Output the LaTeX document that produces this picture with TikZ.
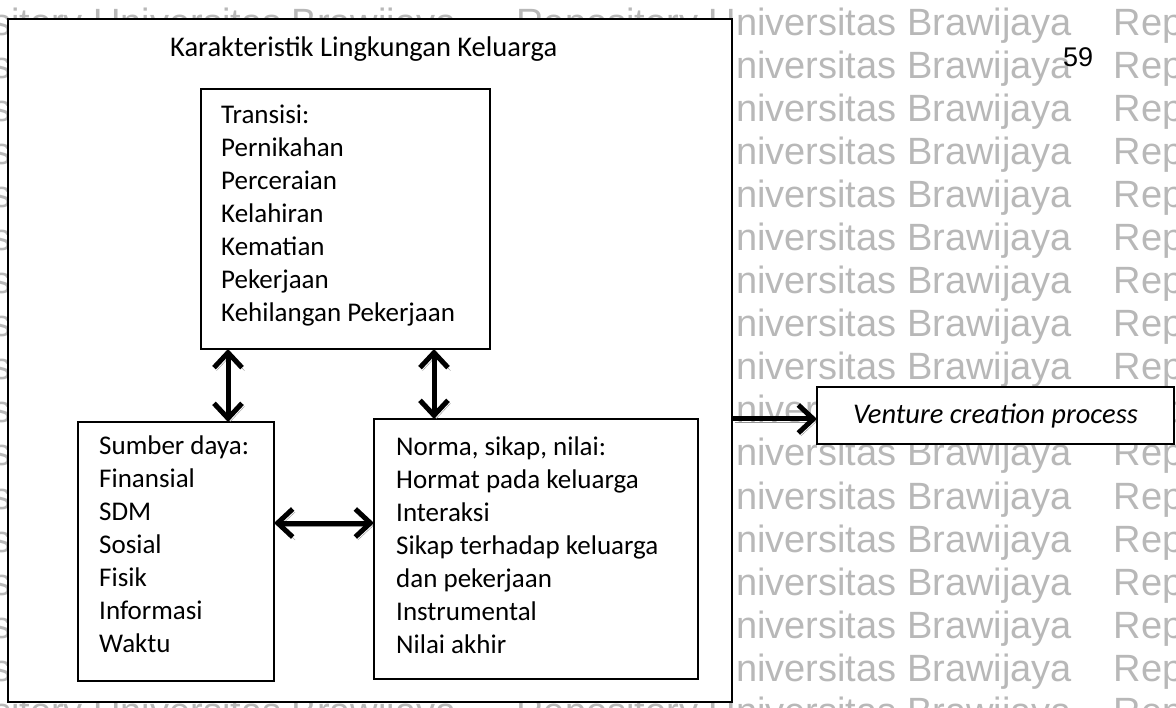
\documentclass[tikz,border=0pt]{standalone}
\usepackage{fontspec}
\setmainfont{Carlito}
\newfontfamily\wmfont{Liberation Sans}
\newfontfamily\pagenumfont{Liberation Sans}
\usetikzlibrary{arrows.meta,calc}
\newcommand{\bodyfont}{\fontsize{27}{33}\selectfont}
\newcommand{\headfont}{\fontsize{28.5}{35}\selectfont}
\begin{document}
\begin{tikzpicture}[x=1pt,y=-1pt,
  frame/.style={draw=black, line width=1.4pt, fill=white, rectangle,
    inner sep=0pt, outer sep=0pt, anchor=north west},
  body/.style={anchor=north west, inner sep=0pt, align=left, font=\bodyfont},
  watermark/.style={anchor=base west, inner sep=0pt, text=black!28,
    font=\wmfont\fontsize{38}{40}\selectfont},
  link/.style={line width=5pt, black,
    preaction={draw=black!42, transform canvas={shift={(2.5pt,-3pt)}}}},
  tip/.tip={Straight Barb[length=15pt,width=28pt,line width=5pt]}
]
\useasboundingbox (0,0) rectangle (1176,708);

% repository watermark lines in the background
\foreach \k in {0,...,16}{
  \node[watermark] (wm\k) at (-99,{36+43*\k})
    {Repository Universitas Brawijaya\hspace{60pt}Repository Universitas Brawijaya\hspace{42pt}Repository};
}

% outer frame and its title
\node[frame, minimum width=724pt, minimum height=683pt] (outer) at (8,19) {};
\node[anchor=base west, inner sep=0pt, font=\headfont] (title) at (170,57)
  {Karakteristik Lingkungan Keluarga};

% the three inner boxes
\node[frame, minimum width=289pt, minimum height=260pt] (trans) at (201,89) {};
\node[body] (transtext) at (221,{123-23.1})
  {\strut Transisi:\\Pernikahan\\Perceraian\\Kelahiran\\Kematian\\Pekerjaan\\Kehilangan Pekerjaan};

\node[frame, minimum width=196pt, minimum height=259pt] (sumber) at (78,422) {};
\node[body] (sumbertext) at (99,{454-23.1})
  {\strut Sumber daya:\\Finansial\\SDM\\Sosial\\Fisik\\Informasi\\Waktu};

\node[frame, minimum width=324pt, minimum height=260pt] (norma) at (374,419) {};
\node[body] (normatext) at (396,{455-23.1})
  {\strut Norma, sikap, nilai:\\Hormat pada keluarga\\Interaksi\\Sikap terhadap keluarga\\dan pekerjaan\\Instrumental\\Nilai akhir};

% outcome box
\node[frame, minimum width=357pt, minimum height=57pt] (venture) at (817,387) {};
\node[inner sep=0pt, font=\headfont\itshape] (venturetext) at (venture.center)
  {Venture creation process};

% page number
\node[anchor=base west, inner sep=0pt, font=\pagenumfont\fontsize{27}{30}\selectfont] (pagenum)
  at (1063,67) {59};

% connectors
\coordinate (xa) at (228,0);
\coordinate (xb) at (434,0);
\coordinate (yh) at (0,523);
\coordinate (yv) at (0,419);
\draw[link, tip-tip] (trans.south -| xa) -- (sumber.north -| xa);
\draw[link, tip-tip] (trans.south -| xb) -- (norma.north -| xb);
\draw[link, tip-tip] (sumber.east |- yh) -- (norma.west |- yh);
\draw[link, -tip] (outer.east |- yv) -- (venture.west |- yv);
\end{tikzpicture}
\end{document}
